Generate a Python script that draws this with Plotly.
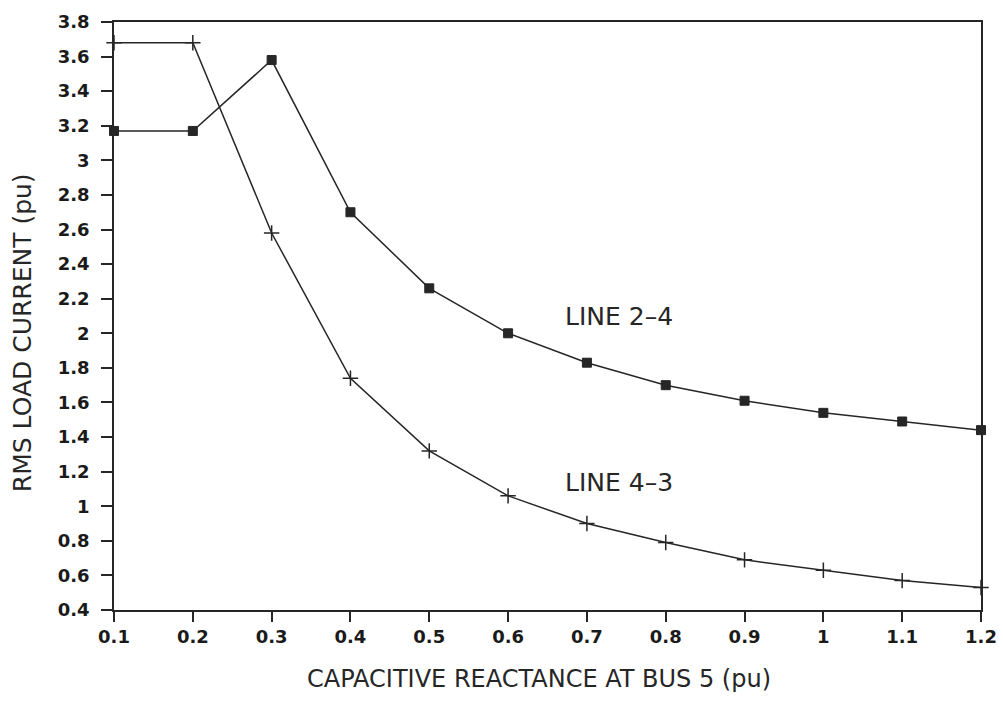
import plotly.graph_objects as go

# Capacitive reactance at bus 5 (pu)
reactance = [0.1, 0.2, 0.3, 0.4, 0.5, 0.6, 0.7, 0.8, 0.9, 1.0, 1.1, 1.2]

# RMS load current (pu) for each line
line_2_4 = [3.17, 3.17, 3.58, 2.70, 2.26, 2.00, 1.83, 1.70, 1.61, 1.54, 1.49, 1.44]
line_4_3 = [3.68, 3.68, 2.58, 1.74, 1.32, 1.06, 0.90, 0.79, 0.69, 0.63, 0.57, 0.53]

x_ticks = [0.1, 0.2, 0.3, 0.4, 0.5, 0.6, 0.7, 0.8, 0.9, 1.0, 1.1, 1.2]
x_tick_text = ["0.1", "0.2", "0.3", "0.4", "0.5", "0.6", "0.7", "0.8", "0.9", "1", "1.1", "1.2"]
y_ticks = [0.4, 0.6, 0.8, 1.0, 1.2, 1.4, 1.6, 1.8, 2.0, 2.2, 2.4, 2.6, 2.8, 3.0, 3.2, 3.4, 3.6, 3.8]
y_tick_text = ["0.4", "0.6", "0.8", "1", "1.2", "1.4", "1.6", "1.8", "2", "2.2", "2.4",
               "2.6", "2.8", "3", "3.2", "3.4", "3.6", "3.8"]

INK = "#262626"
FONT = "DejaVu Sans, Verdana, sans-serif"

fig = go.Figure()

fig.add_trace(go.Scatter(
    x=reactance, y=line_2_4, mode="lines+markers", name="LINE 2-4",
    line=dict(color=INK, width=1.5),
    marker=dict(symbol="square", size=9, color=INK, line=dict(color=INK, width=1)),
    cliponaxis=False,
))
fig.add_trace(go.Scatter(
    x=reactance, y=line_4_3, mode="lines+markers", name="LINE 4-3",
    line=dict(color=INK, width=1.5),
    marker=dict(symbol="cross-thin", size=11, color=INK, line=dict(color=INK, width=1.5)),
    cliponaxis=False,
))

# Curve labels
fig.add_annotation(x=0.67, y=2.095, text="LINE 2\u20134", showarrow=False, xanchor="left",
                   yanchor="middle", font=dict(family=FONT, size=25, color=INK))
fig.add_annotation(x=0.67, y=1.14, text="LINE 4\u20133", showarrow=False, xanchor="left",
                   yanchor="middle", font=dict(family=FONT, size=25, color=INK))

# Axis titles
fig.add_annotation(x=0.49, xref="paper", y=-0.117, yref="paper",
                   text="CAPACITIVE REACTANCE AT BUS 5 (pu)", showarrow=False,
                   xanchor="center", yanchor="middle",
                   font=dict(family=FONT, size=24, color=INK))
fig.add_annotation(x=-0.106, xref="paper", y=0.471, yref="paper",
                   text="RMS LOAD CURRENT (pu)", showarrow=False, textangle=-90,
                   xanchor="center", yanchor="middle",
                   font=dict(family=FONT, size=25, color=INK))

axis_common = dict(
    showgrid=False, zeroline=False, showline=True, linecolor=INK, linewidth=1.6,
    mirror=True, ticks="outside", tickcolor=INK, tickwidth=1.6, automargin=False,
    tickfont=dict(family="DejaVu Sans", size=18, color="#1a1a1a", weight="bold"),
)

fig.update_xaxes(range=[0.1, 1.2], tickvals=x_ticks, ticktext=x_tick_text, ticklen=10,
                 **axis_common)
fig.update_yaxes(range=[0.4, 3.8], tickvals=y_ticks, ticktext=y_tick_text, ticklen=11,
                 ticklabelstandoff=8, **axis_common)

fig.update_layout(
    width=1003, height=702,
    margin=dict(l=114, r=22, t=22, b=92, autoexpand=False),
    paper_bgcolor="white", plot_bgcolor="white",
    showlegend=False,
)

fig.write_html("out.html")
